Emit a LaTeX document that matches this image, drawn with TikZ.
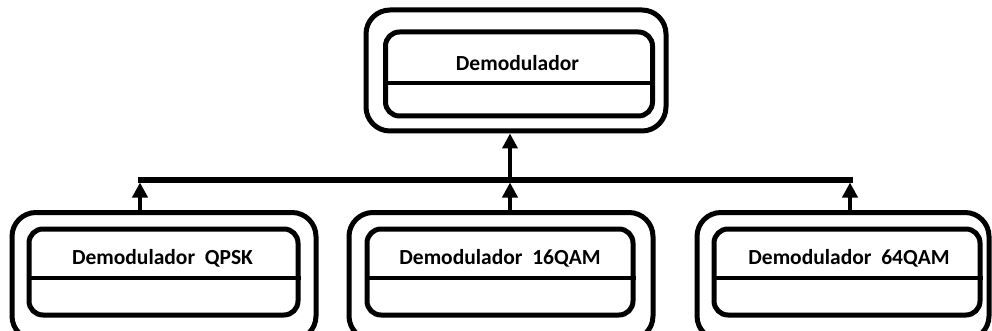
\documentclass[tikz,border=0pt]{standalone}
\usepackage{fontspec}
\setmainfont{Carlito}
\usetikzlibrary{arrows.meta}
\begin{document}
\begin{tikzpicture}[x=1pt,y=-1pt,
  outerbox/.style={draw, line width=5pt, rounded corners=24pt, inner sep=0pt},
  innerbox/.style={draw, line width=5pt, rounded corners=14pt, inner sep=0pt},
  txt/.style={font=\bfseries\fontsize{21.5}{26}\selectfont, inner sep=0pt},
  divider/.style={line width=4.5pt},
  busline/.style={line width=5pt},
  uparrow/.style={line width=4.5pt, -{Triangle[width=15pt,length=15pt]}}
]
\useasboundingbox (0,0) rectangle (992,331);

% parent block
\node[outerbox, minimum width=300pt, minimum height=121pt] (topo) at (516,70.5) {};
\node[innerbox, minimum width=267pt, minimum height=84pt] (topi) at (519,74) {};
\node[txt] (topt) at (517.5,63) {Demodulador};
\draw[divider] (topi.west |- 0,83) -- (topi.east |- 0,83);

% child blocks
\node[outerbox, minimum width=304pt, minimum height=127.5pt] (qpsko) at (164,276.25) {};
\node[innerbox, minimum width=269pt, minimum height=86pt] (qpski) at (163.5,272) {};
\node[txt] (qpskt) at (162.5,258) {Demodulador\ \ QPSK};
\draw[divider] (qpski.west |- 0,278) -- (qpski.east |- 0,278);

\node[outerbox, minimum width=304pt, minimum height=127.5pt] (q16o) at (501,276.25) {};
\node[innerbox, minimum width=266pt, minimum height=86pt] (q16i) at (500,272) {};
\node[txt] (q16t) at (500,258) {Demodulador\ \ 16QAM};
\draw[divider] (q16i.west |- 0,278) -- (q16i.east |- 0,278);

\node[outerbox, minimum width=292pt, minimum height=127.5pt] (q64o) at (843,276.25) {};
\node[innerbox, minimum width=266pt, minimum height=86pt] (q64i) at (847,272) {};
\node[txt] (q64t) at (849,258) {Demodulador\ \ 64QAM};
\draw[divider] (q64i.west |- 0,278) -- (q64i.east |- 0,278);

% bus and arrows
\coordinate (busl) at (137.5,180);
\coordinate (busr) at (852.5,180);
\draw[busline] (busl) -- (busr);

\coordinate (b1) at (140,182.5);
\coordinate (b2) at (510,182.5);
\coordinate (b3) at (850,182.5);
\coordinate (bt) at (510,180);

\draw[uparrow] (b1 |- qpsko.north) -- (b1);
\draw[uparrow] (b2 |- q16o.north) -- (b2);
\draw[uparrow] (b3 |- q64o.north) -- (b3);
\draw[uparrow] (bt) -- (bt |- topo.south);
\end{tikzpicture}
\end{document}
